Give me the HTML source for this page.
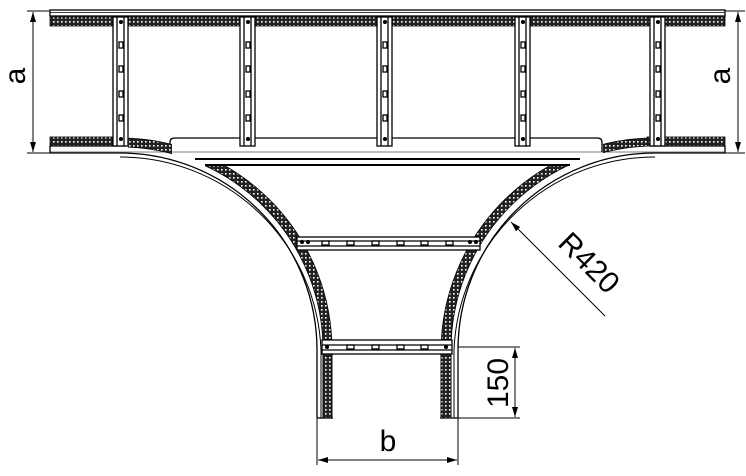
<!DOCTYPE html>
<html><head><meta charset="utf-8"><style>html,body{margin:0;padding:0;background:#fff}svg{display:block}</style></head><body>
<svg width="746" height="476" viewBox="0 0 746 476" xmlns="http://www.w3.org/2000/svg" font-family="Liberation Sans, sans-serif">
<defs>
<pattern id="h" width="4" height="4" patternUnits="userSpaceOnUse">
<rect width="4" height="4" fill="#222"/><rect x="1" y="1" width="1.6" height="1.6" fill="#fff"/>
</pattern>
<marker id="ar" viewBox="0 0 10 6" refX="10" refY="3" markerWidth="10" markerHeight="6" orient="auto-start-reverse" markerUnits="userSpaceOnUse"><path d="M0,0 L10,3 L0,6 z" fill="#000"/></marker>
<clipPath id="cl"><path d="M128,130 H172 V157 H128z M200,166 H580 V420 H200z"/></clipPath>
<clipPath id="cr"><path d="M603,130 H647 V157 H603z M200,166 H580 V420 H200z"/></clipPath>
</defs>
<g fill="none" stroke="#000" stroke-width="1.3">
<rect x="50" y="10" width="675" height="6"/>
<line x1="50" y1="12.5" x2="725" y2="12.5" stroke-width="0.8"/>
<rect x="50" y="17" width="675" height="9" fill="url(#h)" stroke="#000" stroke-width="0.8"/>
<rect x="50" y="137" width="78" height="9" fill="url(#h)" stroke="#000" stroke-width="0.8"/>
<rect x="647" y="137" width="78" height="9" fill="url(#h)" stroke="#000" stroke-width="0.8"/>
<path d="M170,152 V142 Q170,138 175,138 H597 Q602,138 602,142 V152"/>
<path d="M50,146 H125 M650,146 H725 M50,146 V153 M725,146 V153"/>
<path d="M50,153 H120 M655,153 H725"/>
<line x1="50" y1="152" x2="725" y2="152" stroke-width="0.6"/>
<g id="rg">
<rect x="113" y="17" width="15" height="129" fill="#fff"/>
<line x1="117" y1="17" x2="117" y2="146"/><line x1="124" y1="17" x2="124" y2="146"/>
<rect x="119" y="42" width="4" height="6"/><rect x="119" y="66" width="4" height="6"/><rect x="119" y="91" width="4" height="6"/><rect x="119" y="115" width="4" height="6"/>
<circle cx="121" cy="22" r="1.4" fill="#000"/><circle cx="121" cy="139" r="1.4" fill="#000"/>
</g>
<use href="#rg" x="127"/><use href="#rg" x="264"/><use href="#rg" x="402"/><use href="#rg" x="537"/>
<line x1="195" y1="159" x2="580" y2="159" stroke-width="2"/>
<line x1="205" y1="165" x2="570" y2="165" stroke-width="2"/>
<path d="M120,153 A197,197 0 0 1 317,350 V418"/>
<path d="M120,157 A201,201 0 0 1 321,350 V418" stroke-width="1"/>
<path d="M655,153 A197,197 0 0 0 458,350 V418"/>
<path d="M655,157 A201,201 0 0 0 454,350 V418" stroke-width="1"/>
<path d="M120,138 A212,212 0 0 1 332,350 V418 H323 V350 A203,203 0 0 0 120,147 z" fill="url(#h)" stroke="#000" stroke-width="0.8" clip-path="url(#cl)"/>
<rect x="323" y="350" width="9" height="68" fill="url(#h)" stroke="#000" stroke-width="0.8"/>
<path d="M655,138 A214,214 0 0 0 441,350 V418 H451 V350 A204,204 0 0 1 655,146 z" fill="url(#h)" stroke="#000" stroke-width="0.8" clip-path="url(#cr)"/>
<rect x="441" y="350" width="10" height="68" fill="url(#h)" stroke="#000" stroke-width="0.8"/>
<line x1="317" y1="418" x2="333" y2="418"/><line x1="440" y1="418" x2="458" y2="418"/>
<rect x="297" y="237" width="183" height="13" fill="#fff"/>
<line x1="297" y1="241" x2="480" y2="241"/><line x1="297" y1="246" x2="480" y2="246"/>
<g fill="#fff"><rect x="322" y="241" width="7" height="4"/><rect x="347" y="241" width="7" height="4"/><rect x="372" y="241" width="7" height="4"/><rect x="397" y="241" width="7" height="4"/><rect x="421" y="241" width="7" height="4"/><rect x="446" y="241" width="7" height="4"/></g>
<circle cx="302" cy="242" r="1.4" fill="#000"/><circle cx="308" cy="242" r="1.4" fill="#000"/><circle cx="470" cy="242" r="1.4" fill="#000"/><circle cx="476" cy="242" r="1.4" fill="#000"/>
<rect x="322" y="340" width="130" height="14" fill="#fff"/>
<line x1="322" y1="345" x2="452" y2="345"/><line x1="322" y1="350" x2="452" y2="350"/>
<g fill="#fff"><rect x="347" y="345" width="7" height="4"/><rect x="372" y="345" width="7" height="4"/><rect x="397" y="345" width="7" height="4"/><rect x="421" y="345" width="7" height="4"/></g>
<circle cx="327" cy="347" r="1.4" fill="#000"/><circle cx="446" cy="347" r="1.4" fill="#000"/>
<g stroke-width="1">
<line x1="27" y1="11" x2="50" y2="11"/><line x1="27" y1="153" x2="50" y2="153"/>
<line x1="33" y1="12" x2="33" y2="152" marker-start="url(#ar)" marker-end="url(#ar)"/>
<line x1="725" y1="11" x2="745" y2="11"/><line x1="725" y1="153" x2="745" y2="153"/>
<line x1="738" y1="12" x2="738" y2="152" marker-start="url(#ar)" marker-end="url(#ar)"/>
<line x1="317" y1="418" x2="317" y2="465"/><line x1="458" y1="418" x2="458" y2="465"/>
<line x1="318" y1="460" x2="457" y2="460" marker-start="url(#ar)" marker-end="url(#ar)"/>
<line x1="458" y1="347" x2="520" y2="347"/><line x1="458" y1="418" x2="520" y2="418"/>
<line x1="515" y1="348" x2="515" y2="417" marker-start="url(#ar)" marker-end="url(#ar)"/>
<line x1="605" y1="316" x2="511" y2="222" marker-end="url(#ar)"/>
</g>
</g>
<g font-size="30" fill="#000">
<text transform="translate(25,76) rotate(-90)" text-anchor="middle">a</text>
<text transform="translate(730,76) rotate(-90)" text-anchor="middle">a</text>
<text x="388" y="451" text-anchor="middle">b</text>
<text transform="translate(508,383) rotate(-90)" text-anchor="middle">150</text>
<text transform="translate(582,270) rotate(45)" text-anchor="middle">R420</text>
</g>
</svg>
</body></html>
